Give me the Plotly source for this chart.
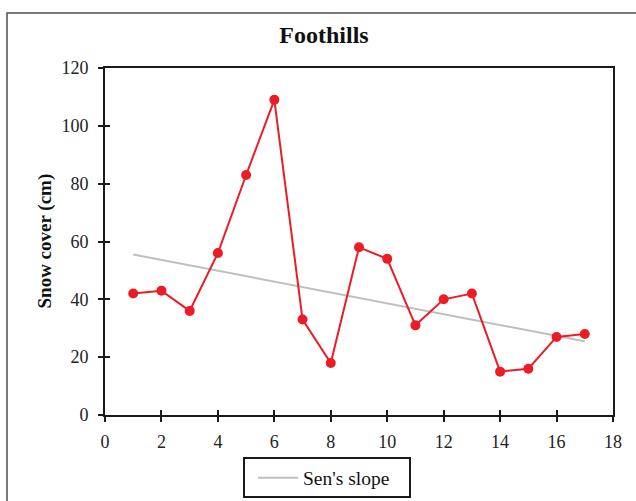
import plotly.graph_objects as go

# Annual snow cover at the foothills station
years = [1, 2, 3, 4, 5, 6, 7, 8, 9, 10, 11, 12, 13, 14, 15, 16, 17]
snow_cover = [42, 43, 36, 56, 83, 109, 33, 18, 58, 54, 31, 40, 42, 15, 16, 27, 28]

# Sen's slope trend line end points
sen_x = [1, 17]
sen_y = [55.5, 25.5]

x_ticks = [0, 2, 4, 6, 8, 10, 12, 14, 16, 18]
y_ticks = [0, 20, 40, 60, 80, 100, 120]

SERIF = "Liberation Serif, Times New Roman, serif"
RED = "#ed1c24"
GREY = "#bfbfbf"
INK = "#1a1a1a"

# plot-area geometry in pixels
W, H = 636, 501
L, R, T, B = 105, 23, 68, 86
PW, PH = W - L - R, H - T - B


def px_x(x):
    return (x - L) / PW


def px_y(y):
    return (H - B - y) / PH


fig = go.Figure()

fig.add_trace(go.Scatter(
    x=sen_x, y=sen_y, mode="lines", name="Sen's slope",
    line=dict(color=GREY, width=2),
))
fig.add_trace(go.Scatter(
    x=years, y=snow_cover, mode="lines+markers", name="Snow cover",
    line=dict(color=RED, width=2),
    marker=dict(color=RED, size=10),
    showlegend=False,
))
# invisible carrier trace so the inner-tick overlay axes get drawn
fig.add_trace(go.Scatter(
    x=[0], y=[0], xaxis="x2", yaxis="y2", mode="markers",
    marker=dict(opacity=0), showlegend=False, hoverinfo="skip",
))

axis_common = dict(
    showgrid=False, zeroline=False,
    showline=True, linecolor=INK, linewidth=2,
    ticks="outside", ticklen=5, tickwidth=2, tickcolor=INK,
    tickfont=dict(family=SERIF, size=18, color="#222222"),
)

fig.update_layout(
    width=W, height=H,
    margin=dict(l=L, r=R, t=T, b=B, autoexpand=False),
    paper_bgcolor="white", plot_bgcolor="white",
    title=dict(
        text="<b>Foothills</b>",
        font=dict(family=SERIF, size=24, color="#111111"),
        x=324 / W, xref="container", xanchor="center",
        y=1 - 35 / H, yref="container", yanchor="middle",
    ),
    xaxis=dict(
        range=[0, 18], tickvals=x_ticks, mirror=True,
        ticklabelstandoff=4, **axis_common,
    ),
    yaxis=dict(
        range=[0, 120], tickvals=y_ticks, mirror=True,
        ticklabelstandoff=6, **axis_common,
    ),
    xaxis2=dict(
        range=[0, 18], tickvals=x_ticks, overlaying="x", anchor="y2",
        side="bottom", showticklabels=False, showline=False,
        showgrid=False, zeroline=False,
        ticks="inside", ticklen=5, tickwidth=2, tickcolor=INK,
    ),
    yaxis2=dict(
        range=[0, 120], tickvals=y_ticks, overlaying="y", anchor="x2",
        side="left", showticklabels=False, showline=False,
        showgrid=False, zeroline=False,
        ticks="inside", ticklen=5, tickwidth=2, tickcolor=INK,
    ),
    legend=dict(
        xref="container", yref="container",
        x=253 / W, y=1 - 478 / H,
        xanchor="left", yanchor="middle",
        borderwidth=0, bgcolor="rgba(0,0,0,0)",
        font=dict(family=SERIF, size=19.5, color="#111111"),
        itemwidth=40,
    ),
    annotations=[
        # y-axis title
        dict(text="<b>Snow cover (cm)</b>", textangle=-90,
             xref="paper", yref="paper", x=px_x(44), y=0.5,
             xanchor="center", yanchor="middle", showarrow=False,
             font=dict(family=SERIF, size=19, color="#111111")),
    ],
    shapes=[
        # outer frame around the whole chart
        dict(type="rect", xref="paper", yref="paper",
             x0=px_x(7), x1=px_x(W + 20),
             y0=px_y(H + 20), y1=px_y(13),
             line=dict(color="#4d4d4d", width=1.5), layer="below"),
        # legend box
        dict(type="rect", xref="paper", yref="paper",
             x0=px_x(244), x1=px_x(410),
             y0=px_y(497), y1=px_y(458),
             line=dict(color=INK, width=2), layer="below"),
    ],
)

fig.write_html("out.html")
